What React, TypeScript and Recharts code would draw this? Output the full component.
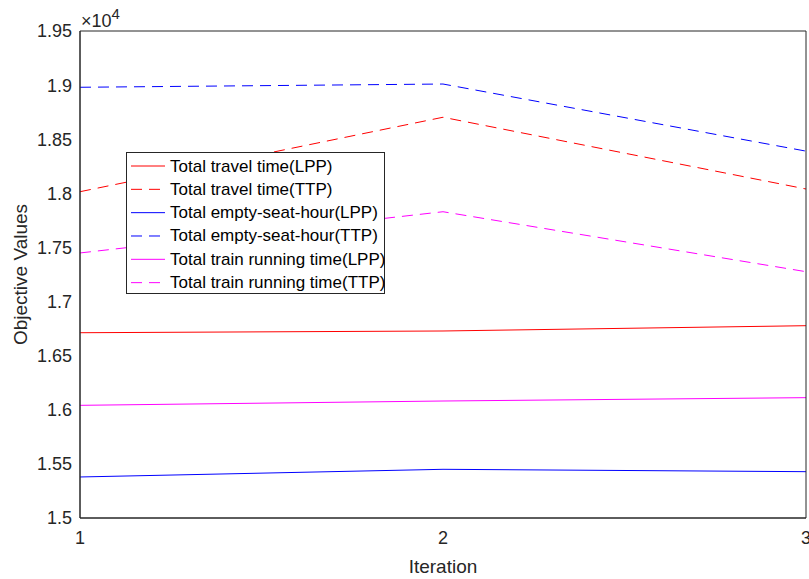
import { LineChart, Line, XAxis, YAxis, Legend, Label } from 'recharts';

const iterations = [1, 2, 3];
const travelLPP = [16712, 16728, 16777];
const travelTTP = [18015, 18703, 18040];
const emptyLPP = [15379, 15450, 15428];
const emptyTTP = [18980, 19010, 18390];
const runLPP = [16041, 16081, 16112];
const runTTP = [17449, 17830, 17276];

const xTicks = [1, 2, 3];
const yTicks = [15000, 15500, 16000, 16500, 17000, 17500, 18000, 18500, 19000, 19500];

const series = [
  { key: 'travelLPP', name: 'Total travel time(LPP)', color: '#ff0000', dash: undefined },
  { key: 'travelTTP', name: 'Total travel time(TTP)', color: '#ff0000', dash: '11 7' },
  { key: 'emptyLPP', name: 'Total empty-seat-hour(LPP)', color: '#0000ff', dash: undefined },
  { key: 'emptyTTP', name: 'Total empty-seat-hour(TTP)', color: '#0000ff', dash: '11 7' },
  { key: 'runLPP', name: 'Total train running time(LPP)', color: '#ff00ff', dash: undefined },
  { key: 'runTTP', name: 'Total train running time(TTP)', color: '#ff00ff', dash: '11 7' },
];

const data = iterations.map((it, i) => ({
  iteration: it,
  travelLPP: travelLPP[i],
  travelTTP: travelTTP[i],
  emptyLPP: emptyLPP[i],
  emptyTTP: emptyTTP[i],
  runLPP: runLPP[i],
  runTTP: runTTP[i],
}));

const AXIS = '#262626';
const FONT = '"Liberation Sans", Arial, Helvetica, sans-serif';

const formatY = (v: number) => String(Number((v / 10000).toFixed(2)));

function LegendBox() {
  const w = 259;
  const h = 142;
  return (
    <svg width={w} height={h} style={{ display: 'block' }}>
      <rect x={0.5} y={0.5} width={w - 1} height={h - 1} fill="#fff" stroke={AXIS} strokeWidth={1} />
      {series.map((s, i) => {
        const cy = 14 + i * 23.33;
        return (
          <g key={s.key}>
            <line x1={5} x2={39} y1={cy} y2={cy} stroke={s.color} strokeWidth={1} strokeDasharray={s.dash} />
            <text x={44} y={cy} dominantBaseline="central" fontSize={17} fontFamily={FONT} fill="#000">
              {s.name}
            </text>
          </g>
        );
      })}
    </svg>
  );
}

function YTitle(props: any) {
  const vb = props.viewBox;
  const cx = vb.x + 20;
  const cy = vb.y + vb.height / 2;
  return (
    <text x={cx} y={cy} transform={`rotate(-90 ${cx} ${cy})`} textAnchor="middle" dominantBaseline="central"
      fontSize={19} fontFamily={FONT} fill={AXIS}>
      Objective Values
    </text>
  );
}

function Exponent(props: any) {
  const vb = props.viewBox;
  const x = vb.x + vb.width + 1;
  const y = vb.y - 4;
  return (
    <text x={x} y={y} fontSize={18} fontFamily={FONT} fill={AXIS}>
      ×10<tspan dy={-8} fontSize={15}>4</tspan>
    </text>
  );
}

export default function App() {
  return (
    <div style={{ position: 'absolute', left: 0, top: 0, width: 809, height: 579, background: '#fff' }}>
      <LineChart width={809} height={579} data={data} margin={{ top: 31, right: 3, bottom: 0, left: 0 }}
        style={{ fontFamily: FONT }}>
        <XAxis xAxisId="b" dataKey="iteration" type="number" domain={[1, 3]} ticks={xTicks} interval={0}
          height={61} tickSize={0} tickMargin={13} tickLine={false}
          axisLine={{ stroke: AXIS }} tick={{ fill: AXIS, fontSize: 18 }}>
          <Label value="Iteration" position="insideBottom" offset={6} fontSize={19} fill={AXIS} />
        </XAxis>
        <XAxis xAxisId="bt" dataKey="iteration" type="number" domain={[1, 3]} ticks={xTicks} interval={0}
          orientation="bottom" mirror tickSize={6} tick={false} tickLine={{ stroke: AXIS }} axisLine={{ stroke: AXIS }} />
        <XAxis xAxisId="t" dataKey="iteration" type="number" domain={[1, 3]} ticks={xTicks} interval={0}
          orientation="top" mirror tickSize={6} tick={false} tickLine={{ stroke: AXIS }} axisLine={{ stroke: AXIS }} />
        <YAxis yAxisId="l" type="number" domain={[15000, 19500]} ticks={yTicks} interval={0} width={80}
          tickSize={0} tickMargin={8} tickLine={false} tickFormatter={formatY}
          axisLine={{ stroke: AXIS }} tick={{ fill: AXIS, fontSize: 18 }}>
          <Label content={<YTitle />} />
          <Label content={<Exponent />} />
        </YAxis>
        <YAxis yAxisId="lt" type="number" domain={[15000, 19500]} ticks={yTicks} interval={0}
          orientation="left" mirror tickSize={6} tick={false} tickLine={{ stroke: AXIS }} axisLine={{ stroke: AXIS }} />
        <YAxis yAxisId="r" type="number" domain={[15000, 19500]} ticks={yTicks} interval={0}
          orientation="right" mirror tickSize={6} tick={false} tickLine={{ stroke: AXIS }} axisLine={{ stroke: AXIS }} />
        <Legend layout="vertical" align="center" verticalAlign="middle" content={<LegendBox />}
          wrapperStyle={{ left: 126, top: 152, width: 259, height: 142 }} />
        {series.map((s) => (
          <Line key={s.key} xAxisId="b" yAxisId="l" type="linear" dataKey={s.key} name={s.name}
            stroke={s.color} strokeWidth={1} strokeDasharray={s.dash} dot={false} activeDot={false}
            isAnimationActive={false} />
        ))}
      </LineChart>
    </div>
  );
}
